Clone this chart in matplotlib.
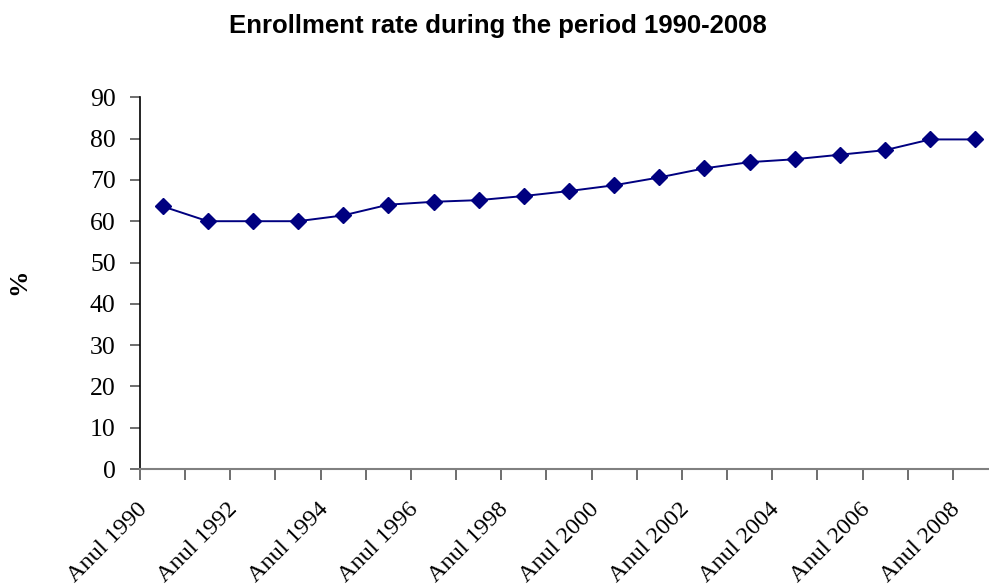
import matplotlib
matplotlib.use("Agg")
import matplotlib.pyplot as plt

# Enrollment rate (%) by year
years = list(range(1990, 2009))
labels = [f"Anul {y}" for y in years]
rates = [63.6, 60.0, 60.0, 60.0, 61.4, 64.0, 64.7, 65.1, 66.1, 67.3,
         68.7, 70.6, 72.8, 74.3, 75.0, 76.1, 77.2, 79.8, 79.8]
y_ticks = [0, 10, 20, 30, 40, 50, 60, 70, 80, 90]

W, H = 989, 587
PX = 72 / 100  # points per pixel at 100 dpi
fig = plt.figure(figsize=(W / 100, H / 100), dpi=100)
fig.patch.set_facecolor("white")

left, right, top, bottom = 140, 998, 97.3, 469
ax = fig.add_axes([left / W, 1 - bottom / H, (right - left) / W, (bottom - top) / H])

x = list(range(len(rates)))
ax.plot(x, rates, color="#000080", linewidth=1.4, marker="D",
        markersize=8.5, markerfacecolor="#000080", markeredgecolor="#000080",
        clip_on=False, zorder=3)

ax.set_xlim(-0.5, len(rates) - 0.5)
ax.set_ylim(0, 90)

# category boundary ticks on x
ax.set_xticks([i - 0.5 for i in range(len(rates) + 1)])
ax.set_xticklabels([])
ax.tick_params(axis="x", direction="out", length=8, width=1.2,
               color="#555555")

# rotated category labels for every other year
for i in x[::2]:
    ax.annotate(labels[i], xy=(i, 0), xycoords=("data", "axes fraction"),
                xytext=(-14.6 * PX, -41 * PX), textcoords="offset points",
                rotation=45, ha="right", va="baseline",
                rotation_mode="anchor", fontsize=17.5,
                family="Liberation Serif", annotation_clip=False)

ax.set_yticks(y_ticks)
ax.set_yticklabels([str(v) for v in y_ticks], fontsize=18.5,
                   family="Liberation Serif")
ax.tick_params(axis="y", direction="out", length=7.5, width=1.2,
               color="#555555", pad=10)

for s in ("top", "right"):
    ax.spines[s].set_visible(False)
ax.spines["left"].set_color("black")
ax.spines["left"].set_linewidth(1.2)
ax.spines["bottom"].set_color("#808080")
ax.spines["bottom"].set_linewidth(1.5)

fig.text(498 / W, 1 - 33 / H, "Enrollment rate during the period 1990-2008",
         ha="center", va="baseline", fontsize=18.5, fontweight="bold",
         family="Liberation Sans")
fig.text(19 / W, 1 - 282 / H, "%", rotation=90, ha="center", va="center",
         fontsize=19, fontweight="bold", family="Liberation Serif")

fig.savefig("out.png", dpi=100, facecolor="white")
